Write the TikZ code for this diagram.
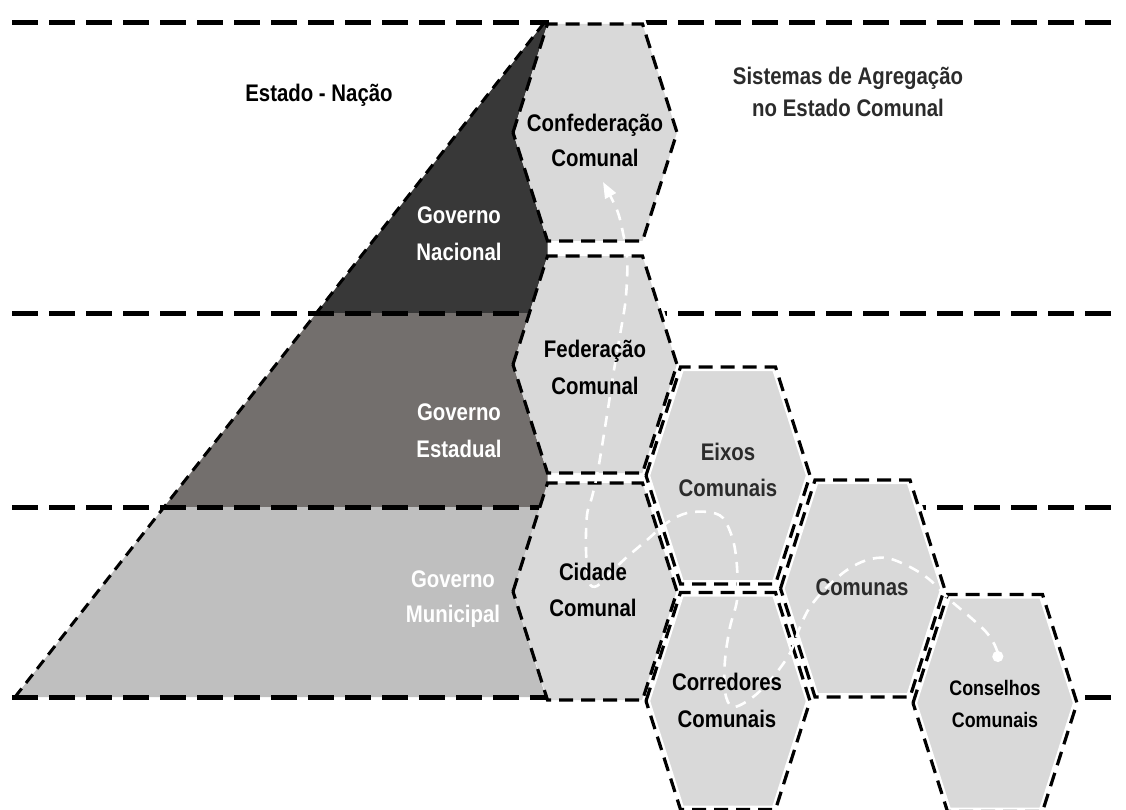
\documentclass[tikz,border=0pt]{standalone}
\usepackage{fontspec}
\newfontfamily\labfont[FakeStretch=0.85]{Liberation Sans}
\usetikzlibrary{arrows.meta}
\definecolor{natgray}{HTML}{383838}
\definecolor{estgray}{HTML}{736F6D}
\definecolor{mungray}{HTML}{BFBFBF}
\definecolor{hexgray}{HTML}{D9D9D9}
\definecolor{txtgray}{HTML}{2B2B2B}
\begin{document}
\begin{tikzpicture}[x=1pt,y=-1pt,
  hexagon/.style={insert path={++(-82,0) -- ++(34.5,-108.5) -- ++(95,0) -- ++(34.5,108.5) -- ++(-34.5,108.5) -- ++(-95,0) -- cycle}},
  hexback/.style={draw=white, line width=8pt, fill=hexgray},
  hexfillonly/.style={fill=hexgray},
  hexline/.style={draw=black, line width=3.2pt, dash pattern=on 14pt off 8pt},
  levelline/.style={draw=black, line width=5pt, dash pattern=on 26pt off 11pt},
  edgedash/.style={draw=black, line width=3pt, dash pattern=on 11pt off 7pt},
  flow/.style={draw=white, line width=2.6pt, dash pattern=on 11pt off 8pt,
    {Circle[length=11pt,fill=white]}-{Triangle[length=16pt,width=12pt,fill=white]}},
  lbl/.style={font={\labfont\bfseries\fontsize{24}{36}\selectfont}, align=center, inner sep=0pt, anchor=base},
]
\useasboundingbox (0,0) rectangle (1126,810);
\clip (0,0) rectangle (1126,810);

% hexagon centres
\coordinate (hConf) at (595,132.5);
\coordinate (hFed)  at (595,364.5);
\coordinate (hCid)  at (595,591.5);
\coordinate (hEix)  at (728,475.5);
\coordinate (hCor)  at (728,701);
\coordinate (hCom)  at (862.5,588.5);
\coordinate (hCon)  at (995,703);

% pyramid of the nation state
\coordinate (apex) at (544,23);
\coordinate (foot) at (15,697);
\fill[natgray] (apex) -- (316.4,313) -- (529.4,313) -- (547.5,256) -- (547.5,241) -- (513,132.5) -- (547.5,24) -- cycle;
\fill[estgray] (316.4,313) -- (164,507) -- (538,507) .. controls (547.5,507) .. (547.5,497) -- (547.5,473) -- (513,364.5) -- (529.4,313) -- cycle;
\fill[mungray] (164,507) -- (foot) -- (545.8,697) -- (513,591.5) -- (539.9,507) -- cycle;

% level lines
\draw[levelline] (12,23) -- (1122,23);
\draw[levelline] (12,313) -- (1122,313);
\draw[levelline] (12,507) -- (1122,507);
\draw[levelline] (12,697) -- (1122,697);
\draw[edgedash] (apex) -- (foot);

% hexagons
\begin{scope}
  \clip (549,0) rectangle (1126,810);
  \path[hexback] (hConf) [hexagon];
  \path[hexback] (hFed) [hexagon];
  \path[hexback] (hCid) [hexagon];
\end{scope}
\path[hexfillonly] (hConf) [hexagon];
\path[hexfillonly] (hFed) [hexagon];
\path[hexfillonly] (hCid) [hexagon];
\path[hexback] (hEix) [hexagon];
\path[hexback] (hCor) [hexagon];
\path[hexback] (hCom) [hexagon];
\path[hexback] (hCon) [hexagon];
\foreach \h in {hConf,hFed,hCid,hEix,hCor,hCom,hCon}
  \path[hexline] (\h) [hexagon];

% aggregation path
\coordinate (src) at (998,662);
\coordinate (dst) at (603,182);
\draw[flow] plot[smooth, tension=0.55] coordinates {(src) (996,648) (987,633) (970,617) (950,600) (930,580) (910,567) (887,558) (867,560) (847,570) (827,587) (810,607) (800,627) (790,653) (773,677) (753,697) (733,707) (725,692) (725,660) (730,627) (737,600) (737,567) (733,540) (723,518) (708,512) (687,513) (668,522) (647,540) (627,557) (610,573) (597,586) (589,582) (586,550) (587,515) (592,497) (598,470) (607,415) (614,370) (620,335) (625,305) (627,280) (627,257) (623,233) (617,210) (dst)};

% labels (a multi-line label is placed by the baseline of its last line)
\node[lbl] (estado) at (319,102) {Estado - Nação};
\node[lbl, text=txtgray, font={\labfont\bfseries\fontsize{24}{32}\selectfont}] (sistemas) at (848,117) {Sistemas de Agregação\\no Estado Comunal};
\node[lbl, font={\labfont\bfseries\fontsize{24}{35}\selectfont}] (conf) at (595,167) {Confederação\\Comunal};
\node[lbl, text=white, font={\labfont\bfseries\fontsize{24}{37}\selectfont}] (gnac) at (459,261) {Governo\\Nacional};
\node[lbl, font={\labfont\bfseries\fontsize{24}{37}\selectfont}] (fed) at (595,394) {Federação\\Comunal};
\node[lbl, text=white, font={\labfont\bfseries\fontsize{24}{37}\selectfont}] (gest) at (459,457) {Governo\\Estadual};
\node[lbl, text=txtgray] (eix) at (728,496) {Eixos\\Comunais};
\node[lbl] (cid) at (593,616) {Cidade\\Comunal};
\node[lbl, text=white, font={\labfont\bfseries\fontsize{24}{35}\selectfont}] (gmun) at (453,622) {Governo\\Municipal};
\node[lbl, font={\labfont\bfseries\fontsize{24}{37}\selectfont}] (cor) at (727,727) {Corredores\\Comunais};
\node[lbl, text=txtgray] (com) at (862,595) {Comunas};
\node[lbl, font={\labfont\bfseries\fontsize{21}{32}\selectfont}] (con) at (995,727) {Conselhos\\Comunais};
\end{tikzpicture}
\end{document}
